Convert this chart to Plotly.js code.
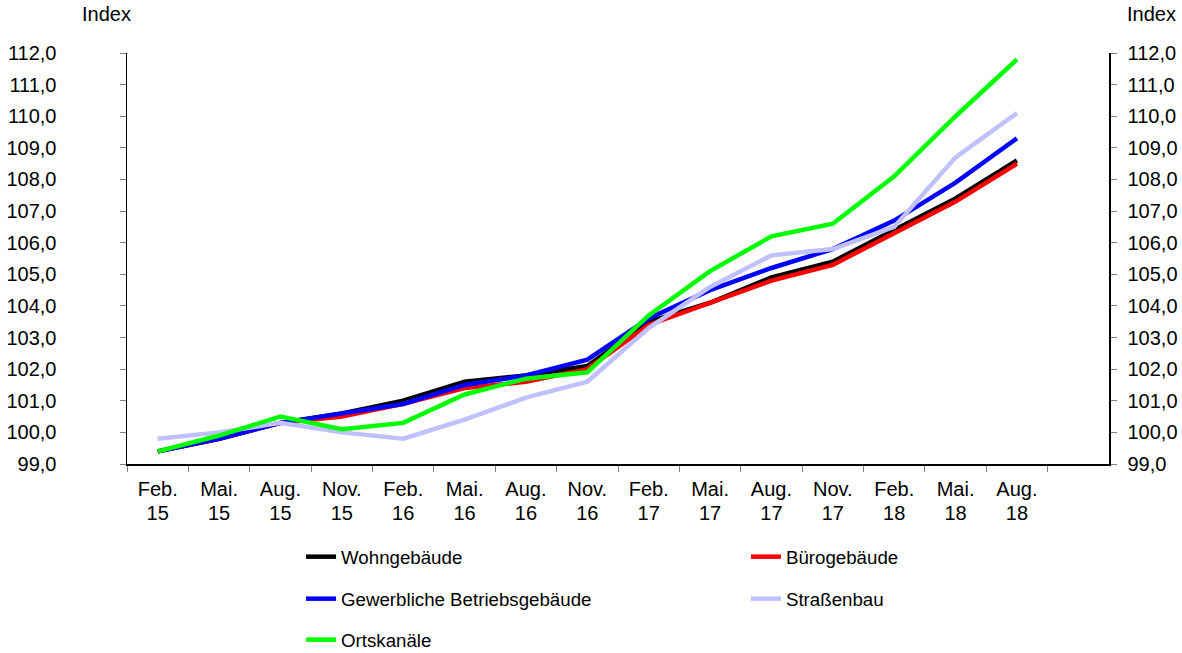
<!DOCTYPE html>
<html>
<head>
<meta charset="utf-8">
<script src="https://cdn.plot.ly/plotly-3.0.1.min.js"></script>
<style>html,body{margin:0;padding:0;background:#fff;}#chart{width:1182px;height:653px;}</style>
</head>
<body>
<div id="chart"></div>
<script>
const categories = ["Feb. 15","Mai. 15","Aug. 15","Nov. 15","Feb. 16","Mai. 16","Aug. 16","Nov. 16","Feb. 17","Mai. 17","Aug. 17","Nov. 17","Feb. 18","Mai. 18","Aug. 18"];
const monthLabels = ["Feb.","Mai.","Aug.","Nov.","Feb.","Mai.","Aug.","Nov.","Feb.","Mai.","Aug.","Nov.","Feb.","Mai.","Aug."];
const yearLabels = ["15","15","15","15","16","16","16","16","17","17","17","17","18","18","18"];
const wohngebaeude = [99.4, 99.8, 100.3, 100.6, 101.0, 101.6, 101.8, 102.1, 103.5, 104.1, 104.9, 105.4, 106.4, 107.4, 108.6];
const buerogebaeude = [99.4, 99.8, 100.3, 100.5, 100.9, 101.4, 101.6, 102.0, 103.4, 104.1, 104.8, 105.3, 106.3, 107.3, 108.5];
const gewerbliche = [99.4, 99.8, 100.3, 100.6, 100.9, 101.5, 101.8, 102.3, 103.6, 104.5, 105.2, 105.8, 106.7, 107.9, 109.3];
const strassenbau = [99.8, 100.0, 100.3, 100.0, 99.8, 100.4, 101.1, 101.6, 103.3, 104.6, 105.6, 105.8, 106.5, 108.7, 110.1];
const ortskanaele = [99.4, 99.9, 100.5, 100.1, 100.3, 101.2, 101.7, 101.9, 103.7, 105.1, 106.2, 106.6, 108.1, 110.0, 111.8];
const seriesNames = ["Wohngebäude","Bürogebäude","Gewerbliche Betriebsgebäude","Straßenbau","Ortskanäle"];
const allCategories = categories.concat(["(leer)"]);

const FONT = "Liberation Sans, Arial, sans-serif";
const AXFS = 20;
const LEGFS = 18.7;
const colors = ["#000000","#ff0000","#0000ff","#c0c0ff","#00ff00"];
const seriesData = [wohngebaeude, buerogebaeude, gewerbliche, strassenbau, ortskanaele];
const legendIds = ["legend","legend2","legend3","legend4","legend5"];

const traces = seriesData.map((vals, i) => ({
  type: "scatter",
  mode: "lines",
  x: categories,
  y: vals,
  name: seriesNames[i],
  line: {color: colors[i], width: 4.5},
  legend: legendIds[i],
  hoverinfo: "x+y+name"
}));
// carrier traces for the right axis and the year-label axis (invisible)
traces.push({type:"scatter", mode:"lines", x:[categories[0]], y:[99], yaxis:"y2", showlegend:false, hoverinfo:"skip", line:{color:"rgba(0,0,0,0)"}});
traces.push({type:"scatter", mode:"lines", x:[categories[0]], y:[99], xaxis:"x2", showlegend:false, hoverinfo:"skip", line:{color:"rgba(0,0,0,0)"}});

function leg(x, y) {
  return {x: x, y: y, xref: "container", yref: "container", xanchor: "left", yanchor: "middle", orientation: "v",
          bgcolor: "rgba(0,0,0,0)", borderwidth: 0, font: {family: FONT, size: LEGFS, color: "#000"}};
}

const yAxisBase = {
  range: [99, 112], dtick: 1, tick0: 99, tickformat: ".1f",
  ticks: "outside", ticklen: 6, tickcolor: "#808080", tickwidth: 1,
  showline: true, linecolor: "#000", linewidth: 1.5,
  showgrid: false, zeroline: false,
  tickfont: {family: FONT, size: AXFS, color: "#000"},
  fixedrange: true
};

const layout = {
  width: 1182, height: 653,
  margin: {l: 127, r: 73, t: 53, b: 189, pad: 0, autoexpand: false},
  paper_bgcolor: "#fff", plot_bgcolor: "#fff",
  separators: ",.",
  font: {family: FONT, size: AXFS, color: "#000"},
  xaxis: {
    type: "category",
    categoryorder: "array",
    categoryarray: allCategories,
    range: [-0.5, 15.5],
    tickmode: "array", tickvals: categories, ticktext: monthLabels,
    tickson: "boundaries", tickangle: 0,
    ticks: "outside", ticklen: 6, tickcolor: "#808080", tickwidth: 1,
    showline: true, linecolor: "#000", linewidth: 1.5,
    showgrid: false, zeroline: false,
    tickfont: {family: FONT, size: AXFS, color: "#000"},
    ticklabelstandoff: 6,
    fixedrange: true
  },
  xaxis2: {
    type: "category",
    overlaying: "x", side: "bottom", anchor: "y",
    categoryorder: "array",
    categoryarray: allCategories,
    range: [-0.5, 15.5],
    tickmode: "array", tickvals: categories, ticktext: yearLabels, tickangle: 0,
    ticks: "", showline: false, showgrid: false, zeroline: false,
    tickfont: {family: FONT, size: AXFS, color: "#000"},
    ticklabelstandoff: 35,
    fixedrange: true
  },
  yaxis: Object.assign({}, yAxisBase, {ticklabelstandoff: 59}),
  yaxis2: Object.assign({}, yAxisBase, {overlaying: "y", side: "right", ticklabelstandoff: 7}),
  showlegend: true,
  legend: leg(0.2547, 1 - 557/653),
  legend2: leg(0.6311, 1 - 557/653),
  legend3: leg(0.2547, 1 - 599/653),
  legend4: leg(0.6311, 1 - 599/653),
  legend5: leg(0.2547, 1 - 640/653),
  annotations: [
    {text: "Index", xref: "paper", yref: "paper", x: -0.0209, y: 1.096, xanchor: "center", yanchor: "middle", showarrow: false, font: {family: FONT, size: AXFS, color: "#000"}},
    {text: "Index", xref: "paper", yref: "paper", x: 1.0428, y: 1.096, xanchor: "center", yanchor: "middle", showarrow: false, font: {family: FONT, size: AXFS, color: "#000"}}
  ]
};

Plotly.newPlot("chart", traces, layout, {displayModeBar: false, staticPlot: true});
</script>
</body>
</html>
